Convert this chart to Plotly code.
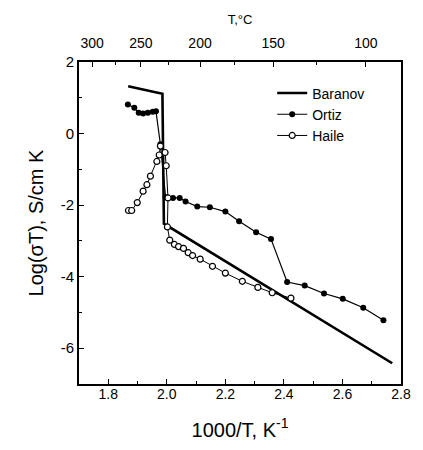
import plotly.graph_objects as go

# Data
baranov_x = [1.868, 1.985, 1.990, 2.770]
baranov_y = [1.32, 1.11, -2.52, -6.42]

ortiz_x = [1.867, 1.889, 1.904, 1.919, 1.935, 1.952, 1.963, 1.978, 1.996,
           2.021, 2.044, 2.064, 2.104, 2.147, 2.200, 2.247, 2.305, 2.356,
           2.411, 2.471, 2.537, 2.601, 2.671, 2.740]
ortiz_y = [0.81, 0.72, 0.58, 0.56, 0.58, 0.61, 0.62, -0.30, -1.78,
           -1.80, -1.80, -1.90, -2.04, -2.06, -2.18, -2.45, -2.76, -2.95,
           -4.15, -4.25, -4.47, -4.62, -4.87, -5.22]

haile_x = [1.869, 1.880, 1.899, 1.919, 1.932, 1.944, 1.966, 1.974, 1.978,
           1.994, 1.998, 2.004, 2.002, 2.010, 2.026, 2.040, 2.057, 2.073,
           2.088, 2.114, 2.156, 2.200, 2.258, 2.311, 2.360, 2.424]
haile_y = [-2.15, -2.15, -1.93, -1.61, -1.43, -1.19, -0.78, -0.60, -0.35,
           -0.53, -0.90, -1.80, -2.61, -2.98, -3.10, -3.16, -3.21, -3.33,
           -3.41, -3.51, -3.71, -3.90, -4.13, -4.30, -4.45, -4.60]

top_major_c = [300, 250, 200, 150, 100]
top_minor_c = [275, 225, 175, 125]
y_ticks = [2, 0, -2, -4, -6]
y_ticklabels = ["2", "0", "-2", "-4", "-6"]
x_ticks = [1.8, 2.0, 2.2, 2.4, 2.6, 2.8]
x_ticklabels = ["1.8", "2.0", "2.2", "2.4", "2.6", "2.8"]

FONT = "Arial, Liberation Sans, Helvetica, sans-serif"

fig = go.Figure()
fig.add_trace(go.Scatter(x=baranov_x, y=baranov_y, name="Baranov", mode="lines",
                         line=dict(color="black", width=2.6)))
fig.add_trace(go.Scatter(x=ortiz_x, y=ortiz_y, name="Ortiz", mode="lines+markers",
                         line=dict(color="black", width=1.2),
                         marker=dict(symbol="circle", size=6, color="black")))
fig.add_trace(go.Scatter(x=haile_x, y=haile_y, name="Haile", mode="lines+markers",
                         line=dict(color="black", width=1),
                         marker=dict(symbol="circle", size=6, color="white",
                                     line=dict(color="black", width=1.2))))
# invisible trace to anchor the top axis
fig.add_trace(go.Scatter(x=[1.7, 2.8], y=[0, 0], xaxis="x2", mode="markers",
                         marker=dict(opacity=0), showlegend=False, hoverinfo="skip"))

top_major = [1000.0 / (t + 273.15) for t in top_major_c]
top_minor = [1000.0 / (t + 273.15) for t in top_minor_c]

fig.update_layout(
    width=423, height=450,
    margin=dict(l=79, r=12, t=62, b=63),
    paper_bgcolor="white", plot_bgcolor="white",
    font=dict(family=FONT, color="black", size=13),
    showlegend=True,
    legend=dict(x=0.60, y=0.952, xanchor="left", yanchor="top",
                bgcolor="rgba(0,0,0,0)", font=dict(size=14, family=FONT),
                tracegroupgap=0, itemwidth=30),
    xaxis=dict(range=[1.7, 2.8], tickmode="array", tickvals=x_ticks, ticktext=x_ticklabels,
               ticks="inside", ticklen=5, tickwidth=1.2, tickcolor="black",
               minor=dict(tickmode="array", tickvals=[1.7, 1.9, 2.1, 2.3, 2.5, 2.7],
                          ticks="inside", ticklen=3, tickcolor="black"),
               showline=True, linecolor="black", linewidth=2, showgrid=False, zeroline=False,
               tickfont=dict(size=14), ticklabelstandoff=-4,
               title=dict(text="1000/T, K<sup>-1</sup>", font=dict(size=20), standoff=22)),
    xaxis2=dict(range=[1.7, 2.8], overlaying="x", side="top", anchor="y",
                tickmode="array", tickvals=top_major, ticktext=[str(t) for t in top_major_c],
                ticks="inside", ticklen=5, tickwidth=1.2, tickcolor="black",
                minor=dict(tickmode="array", tickvals=top_minor,
                           ticks="inside", ticklen=3, tickcolor="black"),
                showline=True, linecolor="black", linewidth=2, showgrid=False, zeroline=False,
                tickfont=dict(size=14), ticklabelstandoff=6,
                title=dict(text="T,°C", font=dict(size=13), standoff=8)),
    yaxis=dict(range=[-7, 2], tickmode="array", tickvals=y_ticks, ticktext=y_ticklabels,
               ticks="inside", ticklen=5, tickwidth=1.2, tickcolor="black",
               minor=dict(tickmode="array", tickvals=[1, -1, -3, -5],
                          ticks="inside", ticklen=3, tickcolor="black"),
               showline=True, linecolor="black", linewidth=2, mirror=True,
               showgrid=False, zeroline=False, tickfont=dict(size=15),
               title=dict(text="Log(σT), S/cm K", font=dict(size=20), standoff=12)),
)

fig.write_html("out.html")
